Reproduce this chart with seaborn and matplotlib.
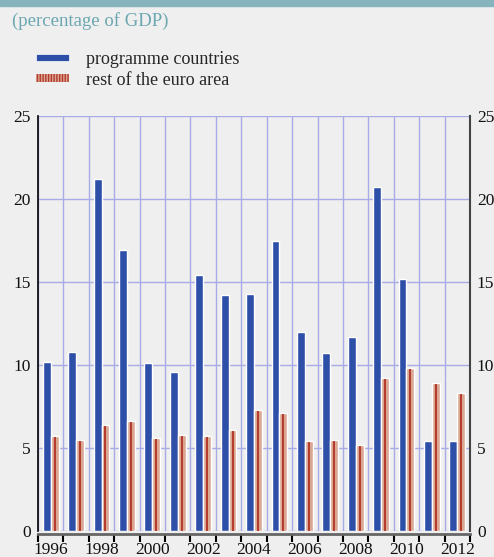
import matplotlib.pyplot as plt
import numpy as np
import pandas as pd
import seaborn as sns
from matplotlib.colors import to_rgb
from matplotlib.patches import Patch

years = list(range(1996, 2013))
programme = [10.2, 10.8, 21.2, 16.9, 10.1, 9.6, 15.4, 14.2, 14.3, 17.5,
             12.0, 10.7, 11.7, 20.7, 15.2, 5.4, 5.4]
rest_euro = [5.7, 5.5, 6.4, 6.6, 5.6, 5.8, 5.7, 6.1, 7.3, 7.1,
             5.4, 5.5, 5.2, 9.2, 9.8, 8.9, 8.3]
series_names = ["programme countries", "rest of the euro area"]

bg = "#efefef"
blue = "#2e4fa8"
salmon = "#dba795"
red = "#b43b2b"
grid_col = "#a7abe6"
teal = "#6aa7b1"

sns.set_theme(style="white")
plt.rcParams["font.family"] = ["Liberation Serif", "DejaVu Serif"]
plt.rcParams["hatch.color"] = red
plt.rcParams["hatch.linewidth"] = 1.0

df = pd.DataFrame({
    "year": [str(y) for y in years] * 2,
    "value": programme + rest_euro,
    "series": [series_names[0]] * len(years) + [series_names[1]] * len(years),
})

fig = plt.figure(figsize=(4.94, 5.57), dpi=100, facecolor=bg)
ax = fig.add_axes([38 / 494, 26 / 557, 432 / 494, 415 / 557])
ax.set_facecolor(bg)

sns.barplot(
    data=df, x="year", y="value", hue="series",
    palette=[blue, salmon], saturation=1, width=0.62, dodge=True,
    edgecolor="white", linewidth=1, legend=False, ax=ax, zorder=3,
)

# red stripe in the middle of each "rest of euro area" bar
for p in list(ax.patches):
    if np.allclose(p.get_facecolor()[:3], to_rgb(salmon), atol=0.01) and p.get_height() > 0:
        cx = p.get_x() + p.get_width() / 2
        ax.vlines(cx, 0, p.get_height() - 0.06, color=red, lw=1.4, zorder=4)

ax.set_ylim(0, 25)
ax.set_xlim(-0.5, len(years) - 0.5)
ax.set_yticks([0, 5, 10, 15, 20, 25])
ax.set_xticks(range(0, len(years), 2))
ax.set_xticklabels([str(y) for y in years[::2]])
ax.set_xticks(np.arange(-0.5, len(years), 1), minor=True)
ax.set_xlabel("")
ax.set_ylabel("")

ax.grid(axis="y", which="major", color=grid_col, lw=1, zorder=0)
ax.grid(axis="x", which="minor", color=grid_col, lw=1, zorder=0)
ax.grid(axis="x", which="major", visible=False)

ax.tick_params(axis="y", length=0, labelsize=12.5, labelright=True, pad=5, colors="#111111")
ax.tick_params(axis="x", which="major", bottom=False, length=0, labelsize=12.5, pad=6,
               colors="#111111")
ax.tick_params(axis="x", which="minor", bottom=True, length=6, width=1.5, color="black",
               direction="out")

ax.spines["top"].set_visible(False)
ax.spines["left"].set_color("black")
ax.spines["left"].set_linewidth(1.2)
ax.spines["right"].set_color("#444444")
ax.spines["right"].set_linewidth(1.5)
ax.spines["bottom"].set_color("#666666")
ax.spines["bottom"].set_linewidth(2)
ax.spines["bottom"].set_position(("outward", 2))

# top band and title
fig.patches.append(plt.Rectangle((0, 1 - 6 / 557), 1, 6 / 557, transform=fig.transFigure,
                                 color="#87b3bd", zorder=0))
fig.text(12 / 494, 1 - 21 / 557, "(percentage of GDP)", color=teal, fontsize=13.5,
         va="center", ha="left")

handles = [
    Patch(facecolor=blue, edgecolor="white", lw=0.5),
    Patch(facecolor=salmon, edgecolor=red, hatch="||||||", lw=0),
]
fig.legend(handles, series_names, loc="upper left", bbox_to_anchor=(36 / 494, 1 - 51 / 557),
           frameon=False, fontsize=13, handlelength=1.85, handleheight=0.3,
           handletextpad=0.9, labelspacing=0.2, borderaxespad=0, borderpad=0)

fig.savefig("out.png", dpi=100, facecolor=bg)
